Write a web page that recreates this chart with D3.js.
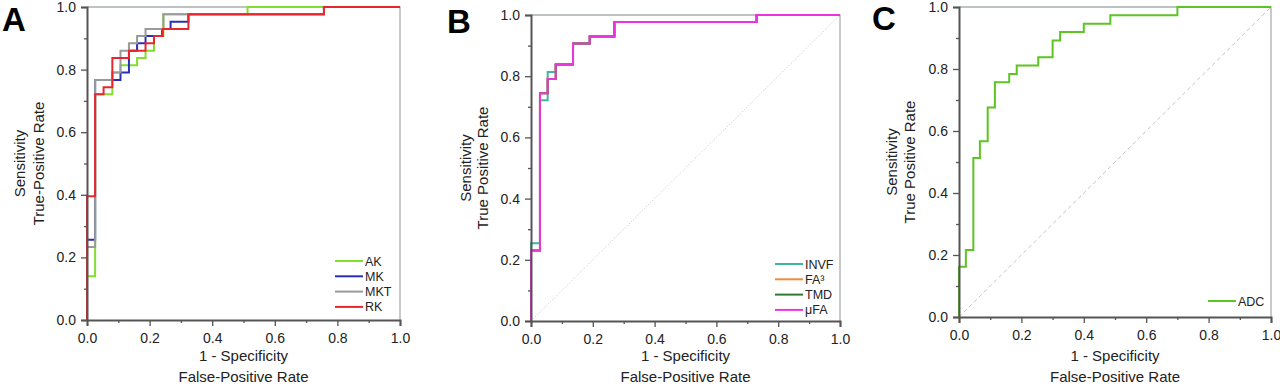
<!DOCTYPE html>
<html>
<head>
<meta charset="utf-8">
<script src="https://cdn.jsdelivr.net/npm/d3@7"></script>
<style>
  body { margin: 0; background: #fff; }
  svg { font-family: "Liberation Sans", Arial, sans-serif; }
  .tick text { font-size: 14px; fill: #222; }
</style>
</head>
<body>
<div id="chart"></div>
<script>
// ---------- data (FPR, TPR corner points of the ROC steps) ----------
const majorTicks = [0, 0.2, 0.4, 0.6, 0.8, 1.0];
const minorTicks = [0.1, 0.3, 0.5, 0.7, 0.9];

const namesA = ["AK", "MK", "MKT", "RK"];
const colorsA = ["#7ee02c", "#2a2fb8", "#9a9a9a", "#e8262e"];
const rocAK  = [[0,0],[0,0.140],[0.026,0.721],[0.081,0.791],[0.107,0.814],[0.160,0.837],[0.187,0.860],[0.214,0.907],[0.244,0.977],[0.513,1],[1,1]];
const rocMK  = [[0,0],[0,0.256],[0.026,0.767],[0.107,0.791],[0.134,0.860],[0.160,0.884],[0.187,0.907],[0.240,0.930],[0.267,0.953],[0.324,0.977],[0.757,1],[1,1]];
const rocMKT = [[0,0],[0,0.233],[0.026,0.767],[0.081,0.791],[0.107,0.860],[0.134,0.884],[0.160,0.907],[0.187,0.930],[0.244,0.953],[0.244,0.977],[0.757,1],[1,1]];
const rocRK  = [[0,0],[0,0.395],[0.026,0.721],[0.053,0.744],[0.081,0.837],[0.134,0.860],[0.187,0.884],[0.214,0.907],[0.242,0.930],[0.324,0.977],[0.757,1],[1,1]];

const namesB = ["INVF", "FA³", "TMD", "μFA"];
const colorsB = ["#3cb8a0", "#f28a3c", "#2f7a2f", "#ee33dd"];
const rocINVF = [[0,0],[0,0.254],[0.029,0.721],[0.054,0.814],[0.080,0.838],[0.136,0.907],[0.190,0.930],[0.270,0.977],[0.730,1],[1,1]];
const rocFA3  = [[0,0],[0,0.230],[0.029,0.744],[0.054,0.791],[0.080,0.838],[0.136,0.907],[0.190,0.930],[0.270,0.977],[0.730,1],[1,1]];
const rocTMD  = [[0,0],[0,0.230],[0.029,0.744],[0.054,0.791],[0.080,0.838],[0.136,0.907],[0.190,0.930],[0.270,0.977],[0.730,1],[1,1]];
const rocUFA  = [[0,0],[0,0.230],[0.029,0.744],[0.054,0.791],[0.080,0.838],[0.136,0.907],[0.190,0.930],[0.270,0.977],[0.730,1],[1,1]];

const namesC = ["ADC"];
const colorsC = ["#5cc423"];
const rocADC = [[0,0],[0,0.162],[0.022,0.216],[0.046,0.513],[0.067,0.567],[0.092,0.676],[0.115,0.757],[0.161,0.784],[0.185,0.811],[0.254,0.838],[0.300,0.892],[0.324,0.919],[0.400,0.946],[0.485,0.973],[0.700,1],[1,1]];

// ---------- layout ----------
const panels = [
  {letter: "A", lx: 2, ly: 31, x0: 87, x1: 400, y0: 7, y1: 320, ylab: ["Sensitivity", "True-Positive Rate"], ylabX: [19, 38],
   names: namesA, colors: colorsA, series: [rocAK, rocMK, rocMKT, rocRK], diag: null, legX: 335, legY: 261},
  {letter: "B", lx: 447, ly: 33, x0: 531, x1: 840, y0: 15, y1: 321, ylab: ["Sensitivity", "True Positive Rate"], ylabX: [465, 482],
   names: namesB, colors: colorsB, series: [rocINVF, rocFA3, rocTMD, rocUFA], diag: "1,2", legX: 775, legY: 264},
  {letter: "C", lx: 872, ly: 30, x0: 959, x1: 1271, y0: 7, y1: 317, ylab: ["Sensitivity", "True Positive Rate"], ylabX: [891, 909],
   names: namesC, colors: colorsC, series: [rocADC], diag: "4,3", legX: 1208, legY: 301}
];

const svg = d3.select("#chart").append("svg")
  .attr("width", 1280)
  .attr("height", 386);

panels.forEach(p => {
  let g = svg.append("g");

  let x = d3.scaleLinear().domain([0, 1]).range([p.x0, p.x1]);
  let y = d3.scaleLinear().domain([0, 1]).range([p.y1, p.y0]);

  // frame top/right (light)
  g.append("path")
    .attr("d", `M${p.x0},${p.y0}H${p.x1}V${p.y1}`)
    .attr("fill", "none")
    .attr("stroke", "#a8aeb0")
    .attr("stroke-width", 1.3);

  // diagonal reference
  if (p.diag) {
    g.append("line")
      .attr("x1", x(0)).attr("y1", y(0))
      .attr("x2", x(1)).attr("y2", y(1))
      .attr("stroke", "#c4c4c4")
      .attr("stroke-width", 1)
      .attr("stroke-dasharray", p.diag);
  }

  // curves
  let line = d3.line()
    .x(d => x(d[0]))
    .y(d => y(d[1]))
    .curve(d3.curveStepAfter);

  p.series.forEach((s, i) => {
    g.append("path")
      .datum(s)
      .attr("d", line)
      .attr("fill", "none")
      .attr("stroke", p.colors[i])
      .attr("stroke-width", 2);
  });

  // axes
  let fmt = d3.format(".1f");
  let xAxis = g.append("g")
    .attr("transform", `translate(0,${p.y1})`)
    .call(d3.axisBottom(x).tickValues(majorTicks).tickFormat(fmt).tickSize(6).tickPadding(5));
  g.append("g")
    .attr("transform", `translate(0,${p.y1})`)
    .call(d3.axisBottom(x).tickValues(minorTicks).tickFormat("").tickSize(3))
    .select(".domain").remove();

  g.append("g")
    .attr("transform", `translate(${p.x0},0)`)
    .call(d3.axisLeft(y).tickValues(majorTicks).tickFormat(fmt).tickSize(6).tickPadding(5));
  g.append("g")
    .attr("transform", `translate(${p.x0},0)`)
    .call(d3.axisLeft(y).tickValues(minorTicks).tickFormat("").tickSize(3))
    .select(".domain").remove();

  g.selectAll(".domain").attr("stroke", "#555").attr("stroke-width", 2);
  g.selectAll(".tick line").attr("stroke", "#555").attr("stroke-width", 1.3);
  xAxis.selectAll("text").attr("dy", "0.85em");

  // axis titles
  let cx = (p.x0 + p.x1) / 2;
  g.append("text").attr("x", cx).attr("y", 361).attr("text-anchor", "middle")
    .attr("font-size", 15).attr("fill", "#222").text("1 - Specificity");
  g.append("text").attr("x", cx).attr("y", 382).attr("text-anchor", "middle")
    .attr("font-size", 15).attr("fill", "#222").text("False-Positive Rate");

  let cy = (p.y0 + p.y1) / 2;
  p.ylab.forEach((t, i) => {
    g.append("text")
      .attr("transform", `translate(${p.ylabX[i] + 6},${cy}) rotate(-90)`)
      .attr("text-anchor", "middle")
      .attr("font-size", 15).attr("fill", "#222")
      .text(t);
  });

  // panel letter
  g.append("text").attr("x", p.lx).attr("y", p.ly)
    .attr("font-size", 33).attr("font-weight", "900").attr("fill", "#000")
    .text(p.letter);

  // legend
  p.names.forEach((n, i) => {
    let ly = p.legY + i * 15.3;
    g.append("line")
      .attr("x1", p.legX).attr("x2", p.legX + 28)
      .attr("y1", ly).attr("y2", ly)
      .attr("stroke", p.colors[i]).attr("stroke-width", 2);
    g.append("text")
      .attr("x", p.legX + 30).attr("y", ly + 4.5)
      .attr("font-size", 12.5).attr("fill", "#222")
      .text(n);
  });
});
</script>
</body>
</html>
